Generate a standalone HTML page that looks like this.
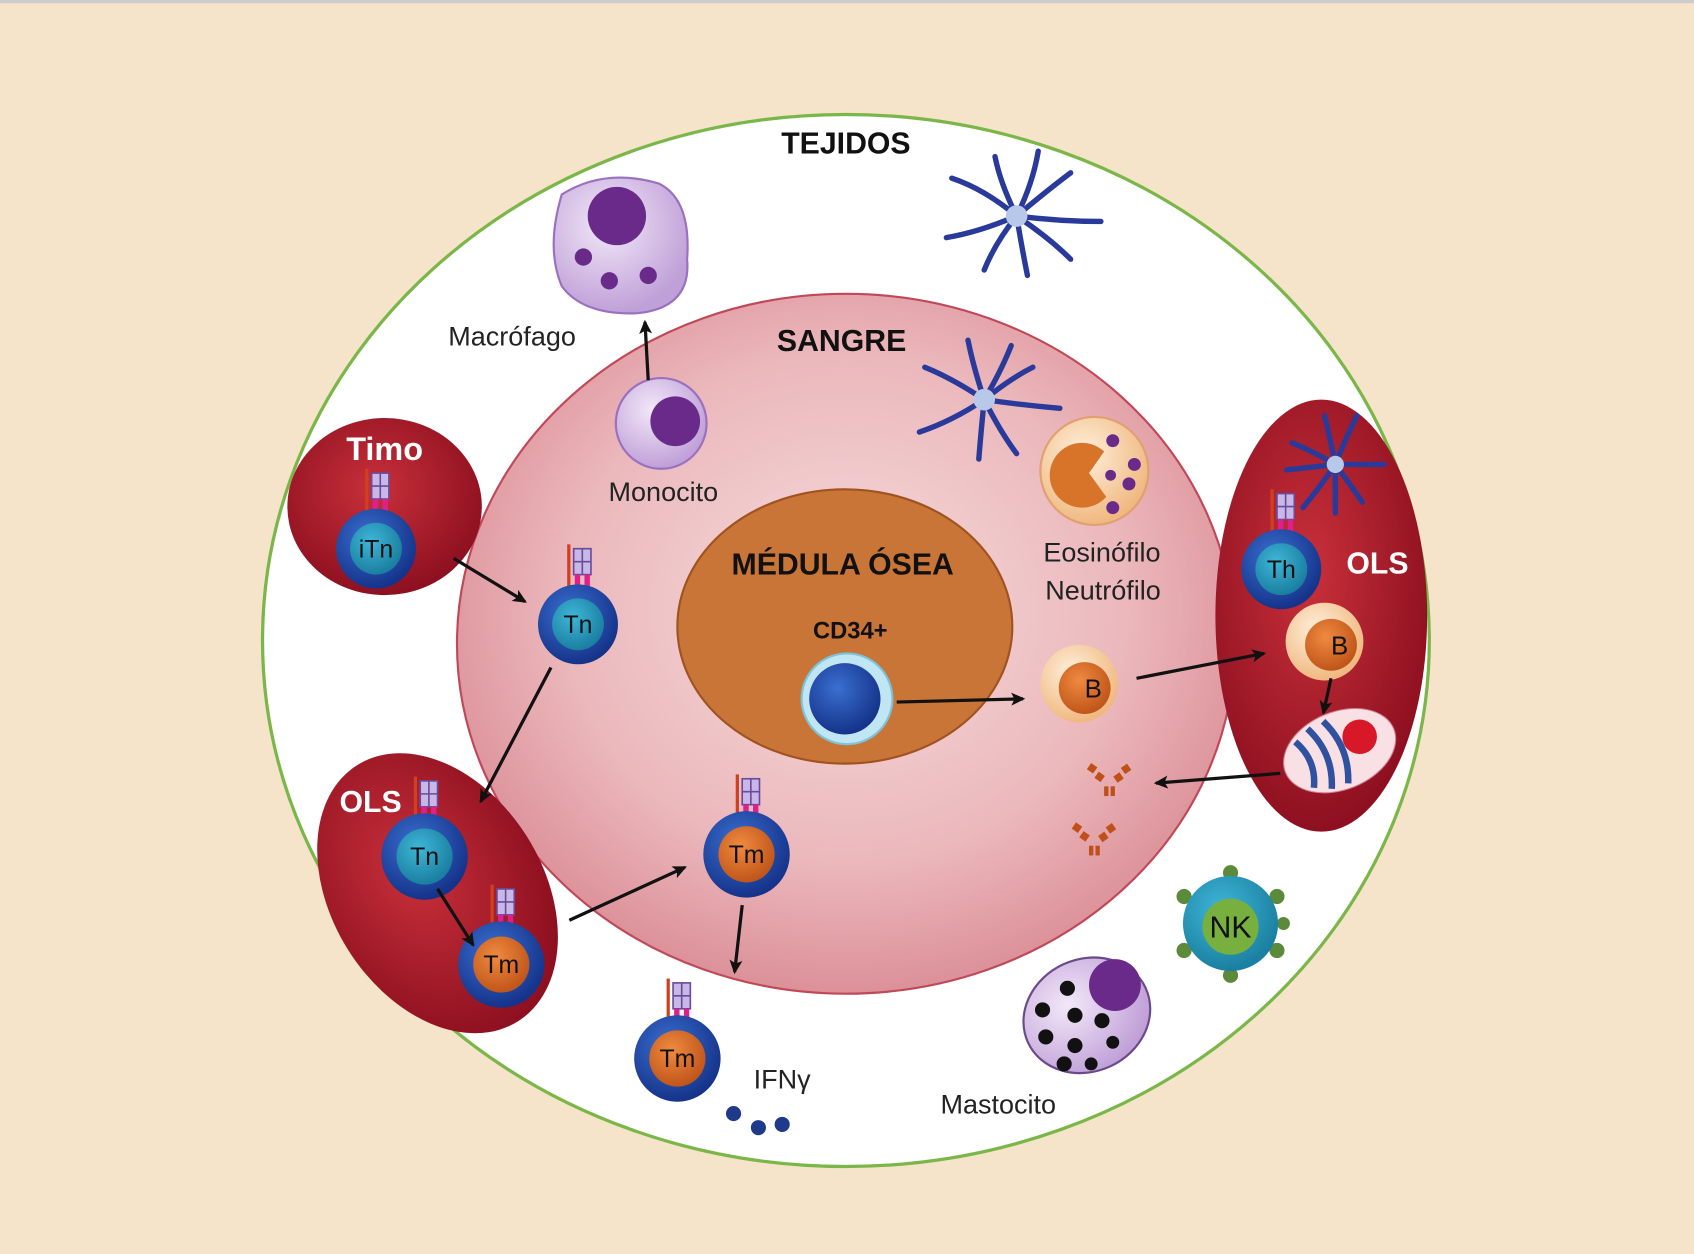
<!DOCTYPE html>
<html><head><meta charset="utf-8"><style>
html,body{margin:0;padding:0;background:#f5e4c9;}
svg{display:block}
text{font-family:"Liberation Sans",sans-serif;}
</style></head><body>
<svg width="1694" height="1254" viewBox="0 0 1568 1161" preserveAspectRatio="none" xmlns="http://www.w3.org/2000/svg">
<defs>
<radialGradient id="sang" cx="50%" cy="45%" r="60%"><stop offset="0" stop-color="#f6dcdc"/><stop offset="0.6" stop-color="#ebb8bc"/><stop offset="1" stop-color="#d8868f"/></radialGradient>
<radialGradient id="red" cx="45%" cy="40%" r="60%"><stop offset="0" stop-color="#c8303a"/><stop offset="1" stop-color="#8e1020"/></radialGradient>
<radialGradient id="blue" cx="40%" cy="35%" r="65%"><stop offset="0" stop-color="#3a6fd0"/><stop offset="1" stop-color="#15338a"/></radialGradient>
<radialGradient id="teal" cx="40%" cy="35%" r="65%"><stop offset="0" stop-color="#3fb6d8"/><stop offset="1" stop-color="#1a7fa0"/></radialGradient>
<radialGradient id="org" cx="40%" cy="35%" r="65%"><stop offset="0" stop-color="#f08a40"/><stop offset="1" stop-color="#c0561a"/></radialGradient>
<radialGradient id="peach" cx="40%" cy="35%" r="65%"><stop offset="0" stop-color="#fff0dc"/><stop offset="1" stop-color="#f0b880"/></radialGradient>
<radialGradient id="lav" cx="40%" cy="35%" r="65%"><stop offset="0" stop-color="#f2e8f8"/><stop offset="1" stop-color="#c0a0d8"/></radialGradient>
<marker id="ah" markerWidth="14" markerHeight="14" refX="11" refY="7" orient="auto" markerUnits="userSpaceOnUse"><path d="M0,1 L13,7 L0,13 L3,7z" fill="#111"/></marker>
<g id="rec">
<rect x="-8" y="-30" width="16" height="24" fill="#c8b8e8" stroke="#6a4a9a" stroke-width="1.5"/>
<line x1="0" y1="-30" x2="0" y2="-6" stroke="#6a4a9a" stroke-width="1.5"/>
<line x1="-8" y1="-18" x2="8" y2="-18" stroke="#6a4a9a" stroke-width="1.5"/>
<rect x="-7" y="-6" width="5" height="14" fill="#e0208a"/><rect x="2" y="-6" width="5" height="14" fill="#e0208a"/>
<rect x="-14" y="-34" width="3" height="40" fill="#d04020"/>
</g>
<g id="ab" fill="#c0501a">
<rect x="-20" y="-14" width="7" height="7" transform="rotate(35 -16 -10)"/><rect x="-13" y="-6" width="7" height="7" transform="rotate(35 -9 -2)"/>
<rect x="12" y="-14" width="7" height="7" transform="rotate(-35 16 -10)"/><rect x="5" y="-6" width="7" height="7" transform="rotate(-35 9 -2)"/>
<rect x="-5" y="6" width="4" height="9"/><rect x="1" y="6" width="4" height="9"/>
</g>
</defs>
<rect width="1568" height="1161" fill="#f5e4c9"/>
<rect width="1568" height="3" fill="#ccc"/>
<ellipse cx="783" cy="593" rx="540" ry="487" fill="#fff" stroke="#7ab648" stroke-width="3"/>
<ellipse cx="783" cy="596" rx="360" ry="324" fill="url(#sang)" stroke="#c04858" stroke-width="2"/>
<ellipse cx="782" cy="580" rx="155" ry="127" fill="#c97538" stroke="#a0521f" stroke-width="2"/>
<ellipse cx="356" cy="469" rx="90" ry="82" fill="url(#red)"/>
<ellipse cx="405" cy="827" rx="98" ry="140" transform="rotate(-32 405 827)" fill="url(#red)"/>
<ellipse cx="1223" cy="570" rx="98" ry="200" fill="url(#red)"/>
<g font-weight="bold" text-anchor="middle" font-size="28">
<text x="783" y="142" fill="#111">TEJIDOS</text>
<text x="779" y="325" fill="#111">SANGRE</text>
<text x="780" y="532" fill="#111">MÉDULA ÓSEA</text>
<text x="787" y="591" font-size="22" fill="#111">CD34+</text>
<text x="356" y="426" fill="#fff" font-size="30">Timo</text>
<text x="343" y="752" fill="#fff" font-size="28">OLS</text>
<text x="1275" y="531" fill="#fff" font-size="28">OLS</text>
</g>
<g font-size="25" text-anchor="middle" fill="#222">
<text x="474" y="320">Macrófago</text>
<text x="614" y="464">Monocito</text>
<text x="1020" y="520">Eosinófilo</text>
<text x="1021" y="555">Neutrófilo</text>
<text x="924" y="1031">Mastocito</text>
<text x="724" y="1008">IFNγ</text>
</g>
<circle cx="784" cy="647" r="42" fill="#bfe6f2" stroke="#7cc4dc" stroke-width="2"/>
<circle cx="782" cy="647" r="33" fill="url(#blue)"/>
<circle cx="999" cy="633" r="36" fill="url(#peach)"/><circle cx="1004" cy="637" r="24" fill="url(#org)"/>
<text x="1012" y="646" font-size="24" text-anchor="middle" fill="#111">B</text>
<circle cx="1226" cy="594" r="36" fill="url(#peach)"/><circle cx="1232" cy="597" r="24" fill="url(#org)"/>
<text x="1240" y="606" font-size="24" text-anchor="middle" fill="#111">B</text>
<g transform="rotate(-22 1240 695)">
<ellipse cx="1240" cy="695" rx="54" ry="36" fill="#f8e0e4" stroke="#d08090"/>
<circle cx="1262" cy="690" r="16" fill="#d81828"/>
<path d="M1205,672 q12,23 0,46 M1220,665 q14,30 0,60 M1236,664 q14,31 0,62" stroke="#3050a0" stroke-width="6" fill="none"/>
</g>
<path d="M520,180 Q560,155 610,170 Q640,185 636,240 Q640,285 590,290 Q540,292 520,265 Q505,230 520,180Z" fill="url(#lav)" stroke="#9a70c0" stroke-width="2"/>
<circle cx="571" cy="200" r="27" fill="#6a2a8a"/>
<circle cx="540" cy="238" r="8" fill="#6a2a8a"/><circle cx="564" cy="260" r="8" fill="#6a2a8a"/><circle cx="600" cy="255" r="8" fill="#6a2a8a"/>
<circle cx="612" cy="392" r="42" fill="url(#lav)" stroke="#9a70c0" stroke-width="2"/>
<circle cx="625" cy="390" r="23" fill="#6a2a8a"/>
<circle cx="1013" cy="436" r="50" fill="url(#peach)" stroke="#e0a070" stroke-width="2"/>
<path d="M1022,418 a30,30 0 1 0 2,42 l-16,-22z" fill="#d8742a"/>
<g fill="#6a2a8a"><circle cx="1030" cy="408" r="6"/><circle cx="1050" cy="430" r="6"/><circle cx="1045" cy="448" r="6"/><circle cx="1028" cy="440" r="5"/><circle cx="1030" cy="470" r="6"/></g>
<g fill="#5a8a3a">
<circle cx="1139" cy="808" r="7"/><circle cx="1139" cy="903" r="7"/><circle cx="1096" cy="830" r="7"/><circle cx="1182" cy="830" r="7"/><circle cx="1096" cy="880" r="7"/><circle cx="1182" cy="880" r="7"/><circle cx="1188" cy="855" r="6"/>
</g>
<circle cx="1139" cy="855" r="44" fill="url(#teal)"/>
<circle cx="1139" cy="858" r="26" fill="#78b040"/>
<text x="1139" y="868" font-size="28" text-anchor="middle" fill="#111">NK</text>
<ellipse cx="1006" cy="940" rx="60" ry="52" transform="rotate(-25 1006 940)" fill="url(#lav)" stroke="#6a4a8a" stroke-width="2"/>
<circle cx="1032" cy="912" r="24" fill="#6a2a8a"/>
<g fill="#111"><circle cx="988" cy="915" r="7"/><circle cx="965" cy="935" r="7"/><circle cx="995" cy="940" r="7"/><circle cx="1020" cy="945" r="7"/><circle cx="968" cy="960" r="7"/><circle cx="995" cy="968" r="7"/><circle cx="1030" cy="965" r="6"/><circle cx="985" cy="985" r="7"/><circle cx="1010" cy="985" r="6"/></g>
<g stroke="#2a3a9a" stroke-width="5" stroke-linecap="round" fill="none">
<path d="M941,200 q-30,-25 -60,-35 M941,200 q-15,-30 -20,-55 M941,200 q15,-30 20,-60 M941,200 q30,-25 50,-40 M941,200 q40,5 78,5 M941,200 q30,20 50,40 M941,200 q5,30 10,55 M941,200 q-20,25 -30,50 M941,200 q-35,15 -65,20"/>
<path d="M911,370 q-30,-20 -55,-30 M911,370 q-10,-30 -15,-55 M911,370 q15,-25 25,-50 M911,370 q25,-20 45,-30 M911,370 q35,5 70,8 M911,370 q15,30 30,50 M911,370 q-3,30 -5,55 M911,370 q-30,20 -60,30"/>
<path d="M1236,430 q-20,-12 -40,-20 M1236,430 q-5,-25 -10,-45 M1236,430 q10,-25 20,-45 M1236,430 q25,0 45,0 M1236,430 q15,20 25,35 M1236,430 q0,25 0,45 M1236,430 q-15,22 -30,40 M1236,430 q-25,3 -45,5"/>
</g>
<circle cx="941" cy="200" r="10" fill="#b8c8e8"/><circle cx="911" cy="370" r="10" fill="#b8c8e8"/><circle cx="1236" cy="430" r="8" fill="#b8c8e8"/>
<g font-size="23" text-anchor="middle" fill="#111">
<g transform="translate(348,508)"><use href="#rec" transform="translate(4,-40)"/><circle r="37" fill="url(#blue)"/><circle r="24" fill="url(#teal)"/><text y="8">iTn</text></g>
<g transform="translate(535,578)"><use href="#rec" transform="translate(4,-40)"/><circle r="37" fill="url(#blue)"/><circle r="24" fill="url(#teal)"/><text y="8">Tn</text></g>
<g transform="translate(393,793)"><use href="#rec" transform="translate(4,-40)"/><circle r="40" fill="url(#blue)"/><circle r="26" fill="url(#teal)"/><text y="8">Tn</text></g>
<g transform="translate(464,893)"><use href="#rec" transform="translate(4,-40)"/><circle r="40" fill="url(#blue)"/><circle r="26" fill="url(#org)"/><text y="8">Tm</text></g>
<g transform="translate(691,791)"><use href="#rec" transform="translate(4,-40)"/><circle r="40" fill="url(#blue)"/><circle r="26" fill="url(#org)"/><text y="8">Tm</text></g>
<g transform="translate(627,980)"><use href="#rec" transform="translate(4,-40)"/><circle r="40" fill="url(#blue)"/><circle r="26" fill="url(#org)"/><text y="8">Tm</text></g>
<g transform="translate(1186,527)"><use href="#rec" transform="translate(4,-40)"/><circle r="37" fill="url(#blue)"/><circle r="24" fill="url(#teal)"/><text y="8">Th</text></g>
</g>
<use href="#ab" transform="translate(1027,722)"/>
<use href="#ab" transform="translate(1013,777)"/>
<g fill="#1f3a8a"><circle cx="679" cy="1031" r="7"/><circle cx="702" cy="1044" r="7"/><circle cx="724" cy="1041" r="7"/></g>
<g stroke="#111" stroke-width="3" fill="none" marker-end="url(#ah)">
<line x1="600" y1="352" x2="597" y2="298"/>
<line x1="420" y1="517" x2="486" y2="557"/>
<line x1="510" y1="618" x2="445" y2="742"/>
<line x1="405" y1="823" x2="438" y2="875"/>
<line x1="527" y1="852" x2="634" y2="803"/>
<line x1="687" y1="838" x2="680" y2="900"/>
<line x1="830" y1="650" x2="947" y2="647"/>
<line x1="1052" y1="628" x2="1170" y2="605"/>
<line x1="1232" y1="628" x2="1225" y2="660"/>
<line x1="1185" y1="716" x2="1070" y2="725"/>
</g>
</svg>
</body></html>
